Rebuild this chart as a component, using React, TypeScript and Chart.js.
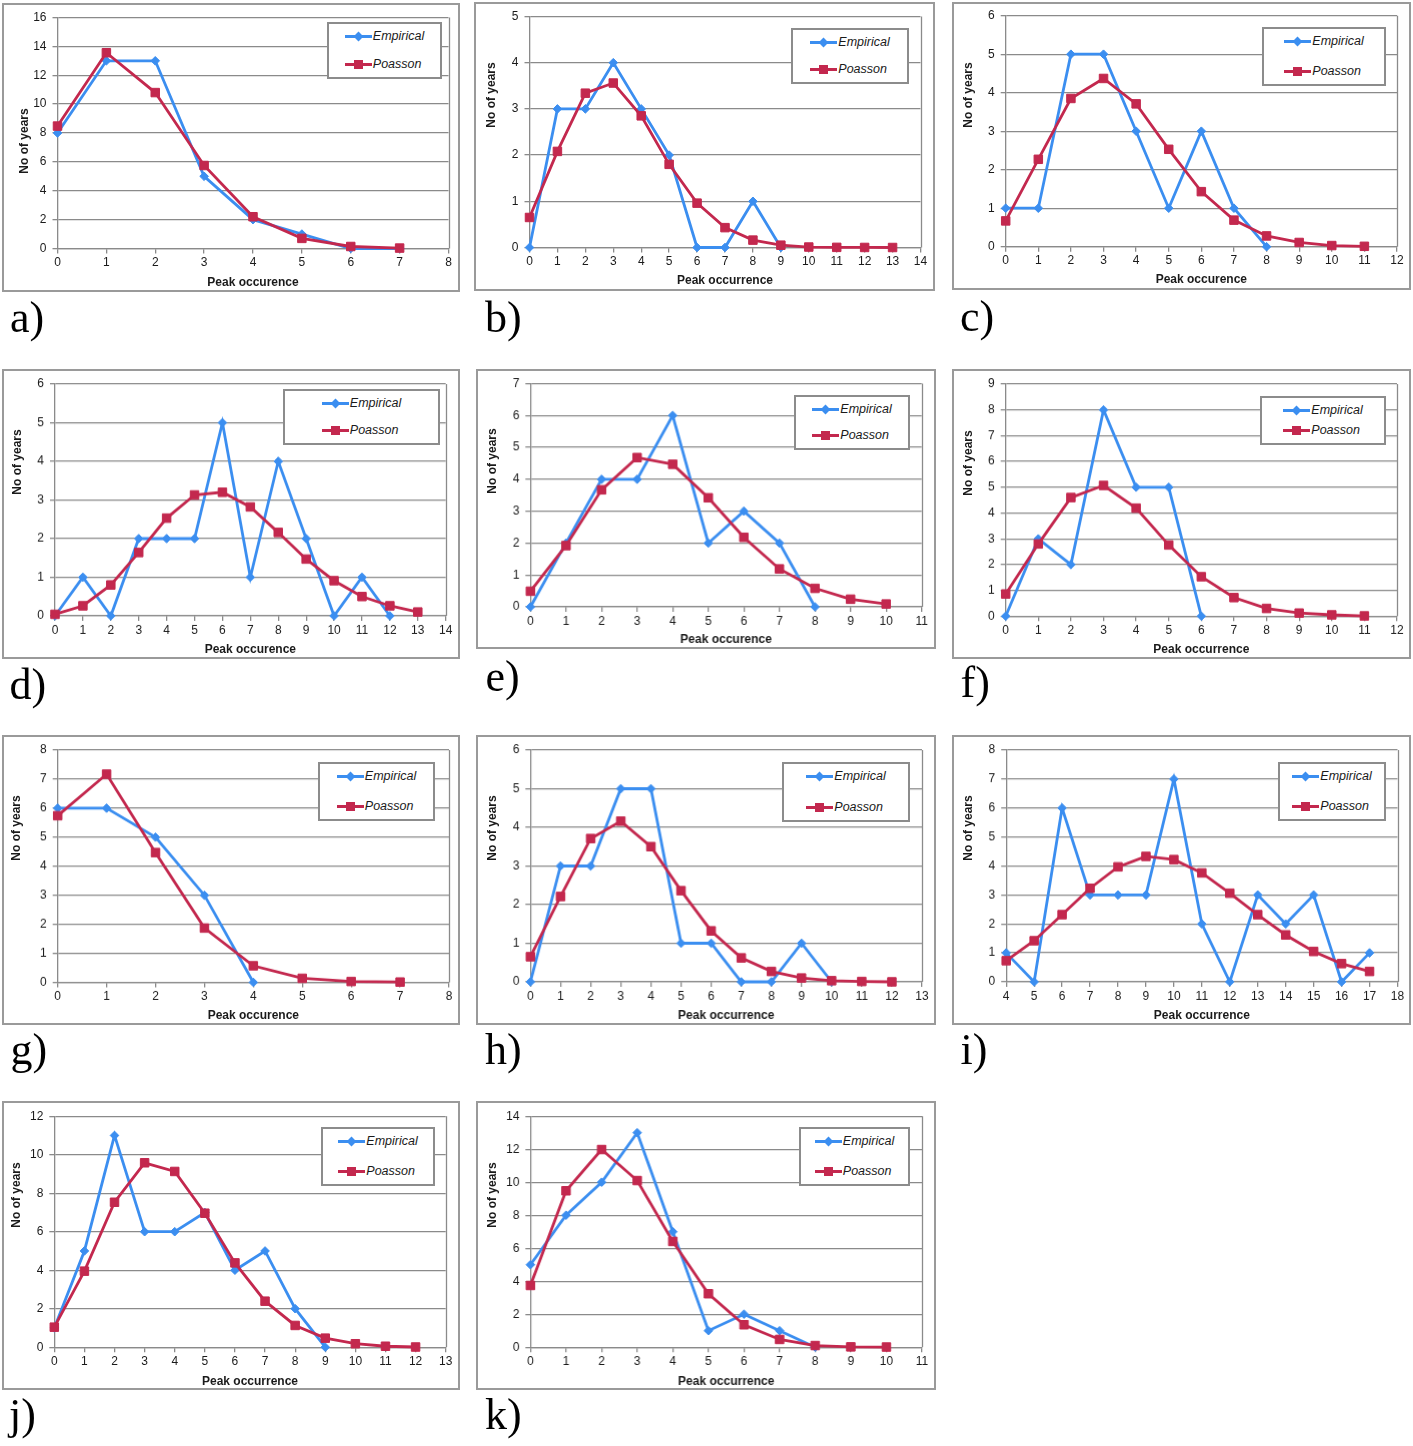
import React, { useEffect, useRef } from 'react';
import { Chart, registerables } from 'chart.js';

Chart.register(...registerables);

// ---------------- DATA ----------------
const occurrenceA = [0, 1, 2, 3, 4, 5, 6, 7];
const empiricalA = [8, 13, 13, 5, 2, 1, 0, 0];
const poissonA = [8.48, 13.56, 10.8, 5.75, 2.2, 0.7, 0.14, 0.03];
const xRangeA = [0, 8];
const yRangeA = [0, 16, 2];

const occurrenceB = [0, 1, 2, 3, 4, 5, 6, 7, 8, 9, 10, 11, 12, 13];
const empiricalB = [0, 3, 3, 4, 3, 2, 0, 0, 1, 0];
const poissonB = [0.65, 2.08, 3.34, 3.56, 2.85, 1.8, 0.96, 0.43, 0.16, 0.05, 0.01, 0.003, 0.001, 0];
const xRangeB = [0, 14];
const yRangeB = [0, 5, 1];

const occurrenceC = [0, 1, 2, 3, 4, 5, 6, 7, 8, 9, 10, 11];
const empiricalC = [1, 1, 5, 5, 3, 1, 3, 1, 0];
const poissonC = [0.67, 2.27, 3.85, 4.37, 3.71, 2.53, 1.43, 0.69, 0.28, 0.11, 0.03, 0.01];
const xRangeC = [0, 12];
const yRangeC = [0, 6, 1];

const occurrenceD = [0, 1, 2, 3, 4, 5, 6, 7, 8, 9, 10, 11, 12, 13];
const empiricalD = [0, 1, 0, 2, 2, 2, 5, 1, 4, 2, 0, 1, 0];
const poissonD = [0.04, 0.26, 0.8, 1.64, 2.53, 3.13, 3.2, 2.82, 2.16, 1.47, 0.91, 0.5, 0.26, 0.1];
const xRangeD = [0, 14];
const yRangeD = [0, 6, 1];

const occurrenceE = [0, 1, 2, 3, 4, 5, 6, 7, 8, 9, 10];
const empiricalE = [0, 2, 4, 4, 6, 2, 3, 2, 0];
const poissonE = [0.49, 1.92, 3.67, 4.68, 4.47, 3.42, 2.18, 1.19, 0.58, 0.24, 0.09];
const xRangeE = [0, 11];
const yRangeE = [0, 7, 1];

const occurrenceF = [0, 1, 2, 3, 4, 5, 6, 7, 8, 9, 10, 11];
const empiricalF = [0, 3, 2, 8, 5, 5, 0];
const poissonF = [0.86, 2.8, 4.6, 5.07, 4.19, 2.76, 1.53, 0.72, 0.3, 0.12, 0.05, 0.01];
const xRangeF = [0, 12];
const yRangeF = [0, 9, 1];

const occurrenceG = [0, 1, 2, 3, 4, 5, 6, 7];
const empiricalG = [6, 6, 5, 3, 0];
const poissonG = [5.74, 7.17, 4.47, 1.87, 0.57, 0.14, 0.03, 0.01];
const xRangeG = [0, 8];
const yRangeG = [0, 8, 1];

const occurrenceH = [0, 1, 2, 3, 4, 5, 6, 7, 8, 9, 10, 11, 12];
const empiricalH = [0, 3, 3, 5, 5, 1, 1, 0, 0, 1, 0];
const poissonH = [0.65, 2.21, 3.71, 4.16, 3.5, 2.36, 1.32, 0.62, 0.27, 0.1, 0.03, 0.01, 0];
const xRangeH = [0, 13];
const yRangeH = [0, 6, 1];

const occurrenceI = [4, 5, 6, 7, 8, 9, 10, 11, 12, 13, 14, 15, 16, 17];
const empiricalI = [1, 0, 6, 3, 3, 3, 7, 2, 0, 3, 2, 3, 0, 1];
const poissonI = [0.73, 1.42, 2.32, 3.23, 3.97, 4.33, 4.22, 3.76, 3.06, 2.32, 1.62, 1.05, 0.63, 0.36];
const xRangeI = [4, 18];
const yRangeI = [0, 8, 1];

const occurrenceJ = [0, 1, 2, 3, 4, 5, 6, 7, 8, 9, 10, 11, 12];
const empiricalJ = [1, 5, 11, 6, 6, 7, 4, 5, 2, 0];
const poissonJ = [1.04, 3.95, 7.53, 9.58, 9.13, 6.96, 4.38, 2.39, 1.13, 0.47, 0.18, 0.05, 0.01];
const xRangeJ = [0, 13];
const yRangeJ = [0, 12, 2];

const occurrenceK = [0, 1, 2, 3, 4, 5, 6, 7, 8, 9, 10];
const empiricalK = [5, 8, 10, 13, 7, 1, 2, 1, 0];
const poissonK = [3.74, 9.48, 11.98, 10.1, 6.41, 3.24, 1.36, 0.47, 0.1, 0.02, 0.01];
const xRangeK = [0, 11];
const yRangeK = [0, 14, 2];

const seriesNames = ['Empirical', 'Poasson'];
const yTitleText = 'No of years';
const titleOnce = 'Peak occurence';
const titleTwice = 'Peak occurrence';

// ---------------- STYLE / LAYOUT ----------------
const BLUE = '#3b8ef0';
const RED = '#c3284e';
const GRID = '#8a8a8a';
const TEXT = '#1a1a1a';
const SANS = '"Liberation Sans", Arial, Helvetica, sans-serif';
const SERIF = '"Liberation Serif", "Times New Roman", Times, serif';

type Spec = {
  letter: string;
  occurrence: number[];
  empirical: number[];
  poisson: number[];
  xRange: number[];
  yRange: number[];
  xTitle: string;
  box: number[]; // left, top, right, bottom
  plot: number[]; // left, top, right, bottom
  legend: number[];
  yTitle: number[]; // cx, cy
  label: number[]; // x, baseline
  xTitleY: number;
};

const specs: Spec[] = [
  { letter: 'a', occurrence: occurrenceA, empirical: empiricalA, poisson: poissonA, xRange: xRangeA, yRange: yRangeA, xTitle: titleOnce,
    box: [2, 3, 460, 292], plot: [57.5, 17.5, 448.5, 248.5], legend: [327, 22, 442, 79], yTitle: [23.5, 141], label: [10, 333], xTitleY: 282.7 },
  { letter: 'b', occurrence: occurrenceB, empirical: empiricalB, poisson: poissonB, xRange: xRangeB, yRange: yRangeB, xTitle: titleTwice,
    box: [474, 2, 935, 291], plot: [529.5, 16.5, 920.5, 247.5], legend: [791, 28, 909, 84], yTitle: [490.7, 95], label: [485, 333], xTitleY: 280.7 },
  { letter: 'c', occurrence: occurrenceC, empirical: empiricalC, poisson: poissonC, xRange: xRangeC, yRange: yRangeC, xTitle: titleOnce,
    box: [952, 2, 1411, 290], plot: [1005.7, 15.7, 1397, 246.7], legend: [1262, 27, 1386, 86], yTitle: [967.7, 94.5], label: [960, 332], xTitleY: 279.3 },
  { letter: 'd', occurrence: occurrenceD, empirical: empiricalD, poisson: poissonD, xRange: xRangeD, yRange: yRangeD, xTitle: titleOnce,
    box: [2, 369, 460, 658.5], plot: [55, 384, 445.7, 615], legend: [283, 389, 440, 445], yTitle: [16.7, 462], label: [9.5, 700], xTitleY: 648.3 },
  { letter: 'e', occurrence: occurrenceE, empirical: empiricalE, poisson: poissonE, xRange: xRangeE, yRange: yRangeE, xTitle: titleOnce,
    box: [476, 369, 935.5, 648.5], plot: [530.3, 383.5, 920.7, 606], legend: [794, 395, 910, 450], yTitle: [491.7, 461], label: [485.5, 691.7], xTitleY: 639 },
  { letter: 'f', occurrence: occurrenceF, empirical: empiricalF, poisson: poissonF, xRange: xRangeF, yRange: yRangeF, xTitle: titleTwice,
    box: [952, 369, 1411, 658.5], plot: [1005.7, 384, 1397, 615.3], legend: [1260, 396, 1386, 445], yTitle: [967.7, 462.5], label: [960.5, 698.3], xTitleY: 648.3 },
  { letter: 'g', occurrence: occurrenceG, empirical: empiricalG, poisson: poissonG, xRange: xRangeG, yRange: yRangeG, xTitle: titleOnce,
    box: [2, 735, 460, 1024.5], plot: [57.7, 750, 449, 981.5], legend: [318, 762, 435, 821], yTitle: [15.7, 828], label: [10.5, 1065], xTitleY: 1014.3 },
  { letter: 'h', occurrence: occurrenceH, empirical: empiricalH, poisson: poissonH, xRange: xRangeH, yRange: yRangeH, xTitle: titleTwice,
    box: [476, 735, 935.5, 1024.5], plot: [530.3, 750, 921, 981], legend: [782, 762, 910, 822], yTitle: [491.7, 828], label: [485, 1065], xTitleY: 1014.3 },
  { letter: 'i', occurrence: occurrenceI, empirical: empiricalI, poisson: poissonI, xRange: xRangeI, yRange: yRangeI, xTitle: titleTwice,
    box: [951.5, 735, 1411, 1024.5], plot: [1005.7, 750, 1397, 981], legend: [1278, 762, 1386, 821], yTitle: [967.7, 828], label: [960.5, 1065], xTitleY: 1014.3 },
  { letter: 'j', occurrence: occurrenceJ, empirical: empiricalJ, poisson: poissonJ, xRange: xRangeJ, yRange: yRangeJ, xTitle: titleTwice,
    box: [2, 1100.5, 460, 1389.5], plot: [54.3, 1115.7, 445.7, 1346.7], legend: [321, 1127, 435, 1186], yTitle: [15.7, 1194.5], label: [9, 1430], xTitleY: 1380.7 },
  { letter: 'k', occurrence: occurrenceK, empirical: empiricalK, poisson: poissonK, xRange: xRangeK, yRange: yRangeK, xTitle: titleTwice,
    box: [476, 1100.5, 935.5, 1389.5], plot: [530.3, 1115.7, 921, 1346.7], legend: [799, 1127, 910, 1186], yTitle: [491.7, 1194.5], label: [485, 1430], xTitleY: 1380.7 },
];

const framePlugin = {
  id: 'plotFrame',
  beforeDatasetsDraw(chart: any) {
    const { ctx, chartArea } = chart;
    const { top, right, bottom } = chartArea;
    ctx.save();
    ctx.strokeStyle = GRID;
    ctx.lineWidth = 1.3;
    ctx.beginPath();
    const x = Math.round(right) + 0.5;
    ctx.moveTo(x, top);
    ctx.lineTo(x, bottom);
    ctx.stroke();
    ctx.restore();
  },
};

function Panel({ s }: { s: Spec }) {
  const ref = useRef<HTMLCanvasElement | null>(null);
  const [bl, bt, br, bb] = s.box;
  const [px0, py0, px1, py1] = s.plot;

  useEffect(() => {
    if (!ref.current) return;
    const tickFont = { family: SANS, size: 12 };
    const chart = new Chart(ref.current, {
      type: 'line',
      data: {
        datasets: [
          {
            label: seriesNames[0],
            data: s.empirical.map((y, i) => ({ x: s.occurrence[i], y })),
            borderColor: BLUE,
            backgroundColor: BLUE,
            pointBackgroundColor: BLUE,
            pointBorderColor: BLUE,
            pointStyle: 'rectRot',
            pointRadius: 4.3,
            pointBorderWidth: 1,
            borderWidth: 2.8,
            tension: 0,
            clip: false,
            order: 2,
          } as any,
          {
            label: seriesNames[1],
            data: s.poisson.map((y, i) => ({ x: s.occurrence[i], y })),
            borderColor: RED,
            backgroundColor: RED,
            pointBackgroundColor: RED,
            pointBorderColor: RED,
            pointStyle: 'rect',
            pointRadius: 6,
            pointBorderWidth: 1,
            borderWidth: 2.8,
            tension: 0,
            clip: false,
            order: 1,
          } as any,
        ],
      },
      options: {
        animation: false,
        responsive: true,
        maintainAspectRatio: false,
        layout: { padding: { top: py0 - bt, right: br - px1, left: 0, bottom: 0 } },
        plugins: { legend: { display: false }, tooltip: { enabled: false } },
        events: [],
        scales: {
          x: {
            type: 'linear',
            min: s.xRange[0],
            max: s.xRange[1],
            ticks: { stepSize: 1, autoSkip: false, maxRotation: 0, font: tickFont, color: TEXT, padding: 2 },
            grid: { drawOnChartArea: false, drawTicks: true, tickLength: 5, color: GRID, lineWidth: 1.3 },
            border: { display: true, color: GRID, width: 1.3 },
            title: {
              display: true,
              text: s.xTitle,
              color: TEXT,
              font: { family: SANS, size: 12, weight: 'bold' },
              padding: { top: 0, bottom: Math.max(0, bb - s.xTitleY - 7.2) },
            },
            afterFit: (scale: any) => { scale.height = bb - py1; },
          },
          y: {
            type: 'linear',
            min: s.yRange[0],
            max: s.yRange[1],
            ticks: { stepSize: s.yRange[2], font: tickFont, color: TEXT, padding: 6 },
            grid: { color: GRID, lineWidth: 1.3, tickLength: 5, drawTicks: true },
            border: { display: true, color: GRID, width: 1.3 },
            afterFit: (scale: any) => { scale.width = px0 - bl; },
          },
        },
      } as any,
      plugins: [framePlugin],
    });
    return () => chart.destroy();
  }, [s]);

  const [ll, lt, lr, lb] = s.legend;

  return (
    <>
      <div style={{ position: 'absolute', left: bl, top: bt, width: br - bl, height: bb - bt }}>
        <canvas ref={ref} />
      </div>
      <div style={{ position: 'absolute', left: bl, top: bt, width: br - bl, height: bb - bt, boxSizing: 'border-box', border: '2px solid #9a9a9a', pointerEvents: 'none' }} />
      <div
        style={{
          position: 'absolute', left: ll, top: lt, width: lr - ll, height: lb - lt, boxSizing: 'border-box',
          border: '2px solid #8c8c8c', background: '#fff', display: 'flex', justifyContent: 'center',
          padding: '5px 0',
        }}
      >
        <div style={{ display: 'flex', flexDirection: 'column', justifyContent: 'space-between', height: '100%' }}>
          <LegendRow color={BLUE} diamond text={seriesNames[0]} />
          <LegendRow color={RED} diamond={false} text={seriesNames[1]} />
        </div>
      </div>
      <div
        style={{
          position: 'absolute', left: s.yTitle[0], top: s.yTitle[1], transform: 'translate(-50%, -50%) rotate(-90deg)',
          fontFamily: SANS, fontWeight: 'bold', fontSize: 12, color: TEXT, whiteSpace: 'nowrap', lineHeight: '14px',
        }}
      >
        {yTitleText}
      </div>
      <div
        style={{
          position: 'absolute', left: s.label[0], top: s.label[1] - 36.85, fontFamily: SERIF, fontSize: 44,
          lineHeight: '44px', color: '#000', whiteSpace: 'nowrap',
        }}
      >
        {s.letter + ')'}
      </div>
    </>
  );
}

function LegendRow({ color, diamond, text }: { color: string; diamond: boolean; text: string }) {
  return (
    <div style={{ display: 'flex', alignItems: 'center', height: 15 }}>
      <div style={{ position: 'relative', width: 27, height: 12 }}>
        <div style={{ position: 'absolute', left: 0, right: 0, top: 4.5, height: 3, background: color }} />
        {diamond ? (
          <div style={{ position: 'absolute', left: 10, top: 2.5, width: 7, height: 7, background: color, transform: 'rotate(45deg)' }} />
        ) : (
          <div style={{ position: 'absolute', left: 9, top: 1.5, width: 9, height: 9, background: color }} />
        )}
      </div>
      <span style={{ fontFamily: SANS, fontStyle: 'italic', fontSize: 12.5, color: TEXT, marginLeft: 1, lineHeight: '15px' }}>{text}</span>
    </div>
  );
}

export default function App() {
  return (
    <div style={{ position: 'absolute', left: 0, top: 0, width: 1413, height: 1446, background: '#fff', overflow: 'hidden' }}>
      {specs.map((s) => (
        <Panel key={s.letter} s={s} />
      ))}
    </div>
  );
}
